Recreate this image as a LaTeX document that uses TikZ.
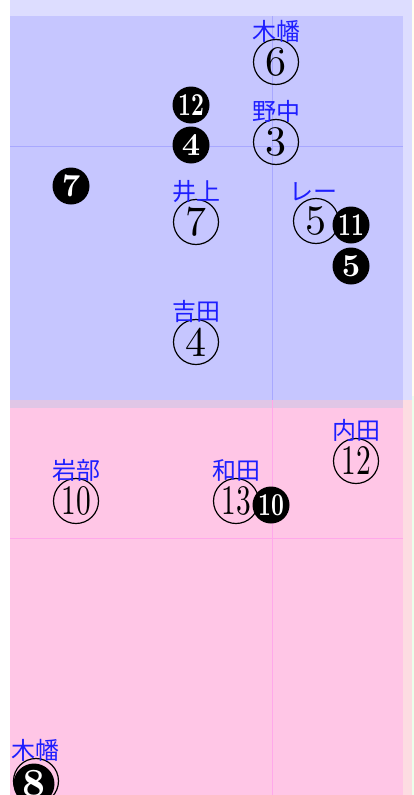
\documentclass[tikz,border=0pt]{standalone}
\usepackage{fontspec}
\usetikzlibrary{positioning}
\newfontfamily\cjk{Noto Sans CJK JP}
\newfontfamily\digits[Extension=.otf,BoldFont=lmroman10-bold]{lmroman10-regular}
\definecolor{topbg}{HTML}{DDDDFF}
\definecolor{infield}{HTML}{C6C6FF}
\definecolor{outfield}{HTML}{FFC6E6}
\definecolor{mixband}{HTML}{E0C6E6}
\definecolor{pinkstrip}{HTML}{FDDCE2}
\definecolor{gridblue}{HTML}{A8A8FF}
\definecolor{gridpink}{HTML}{FFA8EA}
\definecolor{namecol}{HTML}{1E1EFF}
\tikzset{
  player/.style={text=namecol,font=\cjk\fontsize{24}{24}\selectfont,inner sep=0pt},
  posmark/.style={circle,draw,line width=1.2pt,minimum size=45pt,inner sep=0pt,font=\digits\fontsize{42}{42}\selectfont},
  batmark/.style={circle,fill=black,text=white,minimum size=37pt,inner sep=0pt,font=\digits\bfseries\fontsize{32}{32}\selectfont},
}
\newcommand{\twodig}[1]{\scalebox{0.7}[1]{#1}}
\begin{document}
\begin{tikzpicture}[x=1pt,y=-1pt]
      \useasboundingbox (0,0) rectangle (414,795);
      \clip (0,0) rectangle (414,795);
      % field
      \fill[topbg] (10,0) rectangle (412,400);
      \fill[pinkstrip] (10,400) rectangle (412,795);
      \fill[yellow!6] (412,0) rectangle (414,396);
      \fill[green!8] (412,396) rectangle (414,795);
      \fill[infield] (10,16) rectangle (403,400);
      \fill[mixband] (10,400) rectangle (403,408);
      \fill[outfield] (10,408) rectangle (403,795);
      \draw[gridblue] (10,146) -- (403,146) (272,16) -- (272,400);
      \draw[gridpink] (10,538) -- (403,538) (272,400) -- (272,795);
      % positions
      \draw
        (276,62) node[posmark] (p6){6}
        (276,142) node[posmark] (p3){3}
        (196,222) node[posmark] (p7){7}
        (316,221) node[posmark] (p5){5}
        (196,342) node[posmark] (p4){4}
        (356,461) node[posmark] (p12){\twodig{12}}
        (76,501) node[posmark] (p10){\twodig{10}}
        (236,501) node[posmark] (p13){\twodig{13}}
        (36,781) node[posmark] (p8){8};
      % names
      \node[player,above=-4pt of p6] (n6){木幡};
      \node[player,above=-4pt of p3] (n3){野中};
      \node[player,above=-4pt of p7] (n7){井上};
      \node[player,above=-3pt of p5,xshift=-3pt] (n5){レー};
      \node[player,above=-4pt of p4] (n4){吉田};
      \node[player,above=-4pt of p12] (n12){内田};
      \node[player,above=-4pt of p10] (n10){岩部};
      \node[player,above=-4pt of p13] (n13){和田};
      \node[player,above=-4pt of p8] (n8){木幡};
      % order
      \draw
        (191,105) node[batmark] (b12){\twodig{12}}
        (191,145) node[batmark] (b4){4}
        (71,186) node[batmark] (b7){7}
        (351,225) node[batmark] (b11){\twodig{11}}
        (351,266) node[batmark] (b5){5}
        (271,505) node[batmark] (b10){\twodig{10}}
        (34,784) node[batmark,minimum size=41pt,font=\digits\bfseries\fontsize{40}{40}\selectfont] (b8){8};
    \end{tikzpicture}
\end{document}
